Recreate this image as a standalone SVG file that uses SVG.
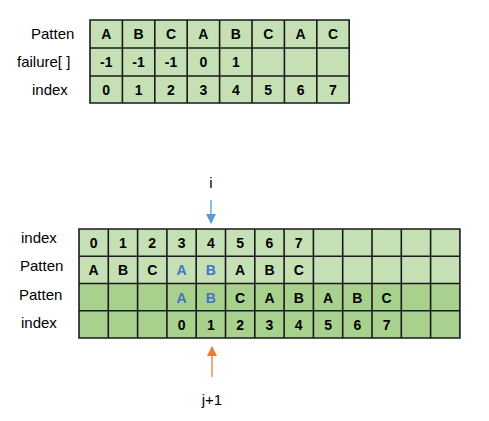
<svg xmlns="http://www.w3.org/2000/svg" width="489" height="421" viewBox="0 0 489 421">
<defs>
<style>
.lbl{font-family:"Liberation Sans",Arial,sans-serif;font-size:15px;fill:#000}
.c{font-family:"Liberation Sans",Arial,sans-serif;font-size:14px;font-weight:bold;fill:#000;text-anchor:middle}
.b{fill:#4472C4}
.grid{stroke:#1a1a1a;stroke-width:1.6;fill:none}
.light{fill:#C5E0B4}
.dark{fill:#A9D18E}
</style>
<marker id="ab" viewBox="0 0 10 10" refX="9" refY="5" markerWidth="10" markerHeight="10" markerUnits="userSpaceOnUse" orient="auto"><path d="M0,0 L10,5 L0,10 z" fill="#5B9BD5"/></marker>
<marker id="ao" viewBox="0 0 10 10" refX="9" refY="5" markerWidth="10" markerHeight="10" markerUnits="userSpaceOnUse" orient="auto"><path d="M0,0 L10,5 L0,10 z" fill="#ED7D31"/></marker>
</defs>
<rect width="489" height="421" fill="#fff"/>

<g id="top-labels">
<text class="lbl" x="31" y="39">Patten</text>
<text class="lbl" x="17" y="67">failure[ ]</text>
<text class="lbl" x="32" y="95">index</text>
</g>

<g id="top-table">
<rect class="light" x="90" y="20" width="259.2" height="83"/>
<path class="grid" d="M90,20H349.2V103H90Z M90,48H349.2 M90,76H349.2 M122.4,20V103 M154.8,20V103 M187.2,20V103 M219.6,20V103 M252,20V103 M284.4,20V103 M316.8,20V103"/>
<text class="c" x="106.2" y="39">A</text><text class="c" x="138.6" y="39">B</text><text class="c" x="171" y="39">C</text><text class="c" x="203.4" y="39">A</text><text class="c" x="235.8" y="39">B</text><text class="c" x="268.2" y="39">C</text><text class="c" x="300.6" y="39">A</text><text class="c" x="333" y="39">C</text>
<text class="c" x="106.2" y="67">-1</text><text class="c" x="138.6" y="67">-1</text><text class="c" x="171" y="67">-1</text><text class="c" x="203.4" y="67">0</text><text class="c" x="235.8" y="67">1</text>
<text class="c" x="106.2" y="94.5">0</text><text class="c" x="138.6" y="94.5">1</text><text class="c" x="171" y="94.5">2</text><text class="c" x="203.4" y="94.5">3</text><text class="c" x="235.8" y="94.5">4</text><text class="c" x="268.2" y="94.5">5</text><text class="c" x="300.6" y="94.5">6</text><text class="c" x="333" y="94.5">7</text>
</g>

<g id="bottom-labels">
<text class="lbl" x="21" y="243">index</text>
<text class="lbl" x="20" y="271">Patten</text>
<text class="lbl" x="19" y="300">Patten</text>
<text class="lbl" x="21" y="328">index</text>
</g>

<g id="bottom-table">
<rect class="light" x="79" y="229" width="380.9" height="54.5"/>
<rect class="dark" x="79" y="283.5" width="380.9" height="54.5"/>
<path class="grid" d="M79,229H459.9V338H79Z M79,256.3H459.9 M79,283.5H459.9 M79,310.8H459.9 M108.3,229V338 M137.6,229V338 M166.9,229V338 M196.2,229V338 M225.5,229V338 M254.8,229V338 M284.1,229V338 M313.4,229V338 M342.7,229V338 M372,229V338 M401.3,229V338 M430.6,229V338"/>
<text class="c" x="93.65" y="248">0</text><text class="c" x="122.95" y="248">1</text><text class="c" x="152.25" y="248">2</text><text class="c" x="181.55" y="248">3</text><text class="c" x="210.85" y="248">4</text><text class="c" x="240.15" y="248">5</text><text class="c" x="269.45" y="248">6</text><text class="c" x="298.75" y="248">7</text>
<text class="c" x="93.65" y="275">A</text><text class="c" x="122.95" y="275">B</text><text class="c" x="152.25" y="275">C</text><text class="c b" x="181.55" y="275">A</text><text class="c b" x="210.85" y="275">B</text><text class="c" x="240.15" y="275">A</text><text class="c" x="269.45" y="275">B</text><text class="c" x="298.75" y="275">C</text>
<text class="c b" x="181.55" y="302.5">A</text><text class="c b" x="210.85" y="302.5">B</text><text class="c" x="240.15" y="302.5">C</text><text class="c" x="269.45" y="302.5">A</text><text class="c" x="298.75" y="302.5">B</text><text class="c" x="328.05" y="302.5">A</text><text class="c" x="357.35" y="302.5">B</text><text class="c" x="386.65" y="302.5">C</text>
<text class="c" x="181.55" y="329.5">0</text><text class="c" x="210.85" y="329.5">1</text><text class="c" x="240.15" y="329.5">2</text><text class="c" x="269.45" y="329.5">3</text><text class="c" x="298.75" y="329.5">4</text><text class="c" x="328.05" y="329.5">5</text><text class="c" x="357.35" y="329.5">6</text><text class="c" x="386.65" y="329.5">7</text>
</g>

<g id="pointer-i">
<text class="lbl" x="211" y="188" text-anchor="middle">i</text>
</g>
<g id="pointer-j">
<text class="lbl" x="212" y="405" text-anchor="middle">j+1</text>
</g>

<g id="connectors">
<line x1="211" y1="200" x2="211" y2="223" stroke="#5B9BD5" stroke-width="1.3" marker-end="url(#ab)"/>
<line x1="212" y1="377" x2="212" y2="347" stroke="#ED7D31" stroke-width="1.3" marker-end="url(#ao)"/>
</g>
</svg>
